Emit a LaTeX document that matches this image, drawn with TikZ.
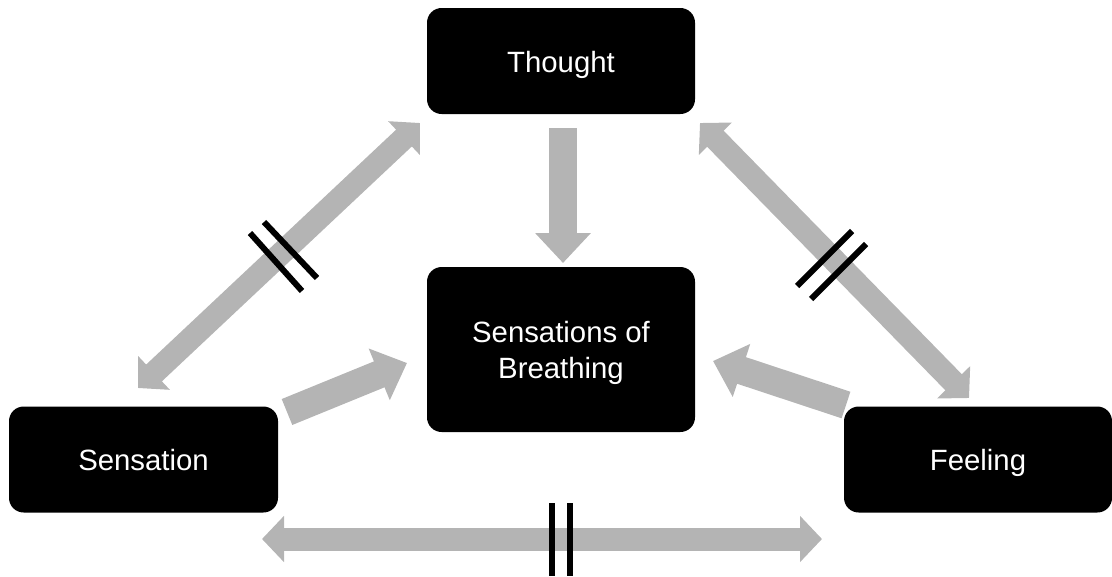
\documentclass[tikz,border=0pt]{standalone}
\usepackage{fontspec}
\setmainfont{Liberation Sans}
\usetikzlibrary{arrows.meta}
\definecolor{arrowgray}{RGB}{180,180,180}
\tikzset{
  sidehead/.tip={Triangle[length=16.5pt,width=33.75pt]},
  mainhead/.tip={Triangle[length=22.5pt,width=40.5pt]},
  stage/.style={fill=black, rounded corners=11pt, inner sep=0pt,
    minimum width=201pt, text=white, align=center,
    text height=17pt, text depth=0pt,
    font=\fontsize{22}{27}\selectfont},
  sidelink/.style={draw=arrowgray, line width=17.25pt, sidehead-sidehead},
  mainlink/.style={draw=arrowgray, line width=21pt, -mainhead},
  breakbar/.style={draw=black, line width=4.5pt}
}
\begin{document}
\begin{tikzpicture}[x=0.75pt, y=-0.75pt]
\useasboundingbox (0,0) rectangle (1112,576);

% the four stages
\node[stage, minimum height=79.5pt]  (thought) at (561,61)    {Thought};
\node[stage, minimum height=123.75pt, text height=44pt] (breath) at (561,349.5) {Sensations of\\Breathing};
\node[stage, minimum height=79.5pt, minimum width=201.75pt] (sens) at (143.5,459.5) {Sensation};
\node[stage, minimum height=79.5pt]  (feel) at (978,459.5)    {Feeling};

% end points of the connectors
\coordinate (ts) at (420,123);  \coordinate (st) at (138,388);
\coordinate (tf) at (700,123);  \coordinate (ft) at (969,398);
\coordinate (sf) at (262,539);  \coordinate (fs) at (822,539);
\coordinate (tb0) at (563,128); \coordinate (tb1) at (563,263);
\coordinate (sb0) at (287,412); \coordinate (sb1) at (407,363);
\coordinate (fb0) at (846,405); \coordinate (fb1) at (713,361);

% two-way links between the outer stages
\draw[sidelink] (st) -- (ts);
\draw[sidelink] (tf) -- (ft);
\draw[sidelink] (sf) -- (fs);

% each stage feeds the breathing sensations
\draw[mainlink] (tb0) -- (tb1);
\draw[mainlink] (sb0) -- (sb1);
\draw[mainlink] (fb0) -- (fb1);

% broken-link marks
\draw[breakbar] (250,233) -- (302,291);
\draw[breakbar] (264,222) -- (317,278);
\draw[breakbar] (797,286) -- (852,231);
\draw[breakbar] (811,299) -- (866,244);
\draw[breakbar] (551.5,503) -- (551.5,576);
\draw[breakbar] (569.5,503) -- (569.5,576);
\end{tikzpicture}
\end{document}
